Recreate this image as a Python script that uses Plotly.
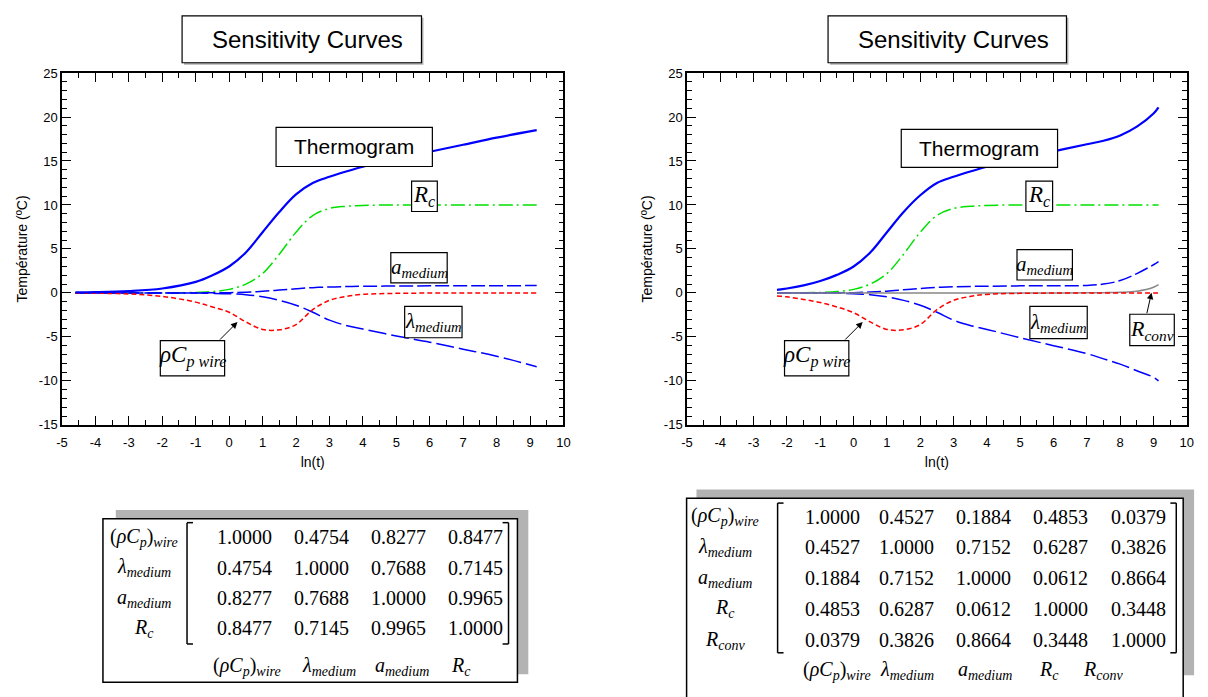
import plotly.graph_objects as go

W, H = 1208, 697

# ---------------- data ----------------
x_left = [-4.6, -4, -3, -2, -1, -0.5, 0, 0.5, 1, 1.5, 2, 2.5, 3, 3.5, 4, 5, 6, 7, 8, 9.2]
thermo_left = [0.05, 0.08, 0.2, 0.5, 1.25, 2.0, 3.0, 4.6, 6.9, 9.2, 11.2, 12.5, 13.2, 13.8, 14.35, 15.25, 16.05, 16.85, 17.65, 18.5]
rc_left = [0, 0, 0, 0.01, 0.05, 0.15, 0.4, 1.0, 2.2, 4.4, 6.9, 8.8, 9.6, 9.85, 9.95, 10, 10, 10, 10, 10]
a_left = [0, 0, 0, 0, 0, 0.01, 0.03, 0.08, 0.18, 0.32, 0.47, 0.6, 0.68, 0.72, 0.75, 0.78, 0.8, 0.81, 0.82, 0.83]
lam_left = [0, 0, 0, 0, -0.02, -0.05, -0.1, -0.2, -0.45, -0.85, -1.4, -2.2, -3.1, -3.7, -4.1, -4.9, -5.6, -6.4, -7.2, -8.4]
rho_left = [-0.02, -0.04, -0.12, -0.4, -1.05, -1.6, -2.2, -3.3, -4.15, -4.2, -3.6, -1.9, -0.85, -0.4, -0.17, -0.05, -0.02, 0, 0, 0]

x_right = [-2.3, -2, -1.5, -1, -0.5, 0, 0.5, 1, 1.5, 2, 2.5, 3, 3.5, 4, 5, 6, 7, 7.5, 8, 8.5, 9, 9.15]
thermo_right = [0.35, 0.5, 0.85, 1.35, 2.05, 3.0, 4.6, 6.9, 9.2, 11.1, 12.5, 13.2, 13.8, 14.35, 15.25, 16.1, 16.9, 17.3, 17.9, 18.9, 20.4, 21.1]
rc_right = [0, 0.005, 0.02, 0.05, 0.15, 0.4, 1.0, 2.2, 4.4, 6.9, 8.8, 9.6, 9.85, 9.95, 10, 10, 10, 10, 10, 10, 10, 10]
a_right = [0, 0, 0, 0, 0.01, 0.03, 0.1, 0.2, 0.35, 0.5, 0.62, 0.7, 0.74, 0.76, 0.8, 0.82, 0.85, 1.0, 1.4, 2.2, 3.2, 3.55]
lam_right = [0, 0, 0, 0, -0.02, -0.1, -0.2, -0.45, -0.85, -1.4, -2.2, -3.1, -3.7, -4.15, -5.1, -6.0, -6.9, -7.5, -8.1, -8.85, -9.6, -10.0]
rho_right = [-0.35, -0.45, -0.75, -1.1, -1.6, -2.25, -3.3, -4.15, -4.2, -3.6, -1.9, -0.85, -0.4, -0.17, -0.05, -0.02, 0, 0, 0, 0, 0, 0]
rconv_right = [0, 0, 0, 0, 0, 0, 0, 0, 0, 0, 0, 0, 0, 0, 0, 0, 0.01, 0.03, 0.07, 0.2, 0.65, 0.95]

x_ticks = list(range(-5, 11))
x_ticklabels = [str(v) for v in x_ticks]
y_ticks = list(range(-15, 26, 5))
y_ticklabels = [str(v) for v in y_ticks]

params_left = ["(<i>ρC</i><sub><i>p</i></sub>)<sub><i>wire</i></sub>", "<i>λ</i><sub><i>medium</i></sub>",
               "<i>a</i><sub><i>medium</i></sub>", "<i>R</i><sub><i>c</i></sub>"]
corr_left = [[1.0000, 0.4754, 0.8277, 0.8477],
             [0.4754, 1.0000, 0.7688, 0.7145],
             [0.8277, 0.7688, 1.0000, 0.9965],
             [0.8477, 0.7145, 0.9965, 1.0000]]
params_right = params_left + ["<i>R</i><sub><i>conv</i></sub>"]
corr_right = [[1.0000, 0.4527, 0.1884, 0.4853, 0.0379],
              [0.4527, 1.0000, 0.7152, 0.6287, 0.3826],
              [0.1884, 0.7152, 1.0000, 0.0612, 0.8664],
              [0.4853, 0.6287, 0.0612, 1.0000, 0.3448],
              [0.0379, 0.3826, 0.8664, 0.3448, 1.0000]]

# ---------------- helpers ----------------
def px(x):
    return x / W

def py(y):
    return 1 - y / H

BLUE = "#0000ff"
GREEN = "#00e000"
RED = "#ff0000"
GRAY = "#888888"
SANS = "Liberation Sans, Arial, sans-serif"
SERIF = "Liberation Serif, Times New Roman, serif"

fig = go.Figure()

def add_curves(xs, thermo, rc, a, lam, rho, xa, ya, rconv=None):
    common = dict(mode="lines", xaxis=xa, yaxis=ya, hoverinfo="skip", line_shape="spline")
    fig.add_trace(go.Scatter(x=xs, y=rc, line=dict(color=GREEN, width=1.5, dash="14px,4px,2px,4px"), **common))
    fig.add_trace(go.Scatter(x=xs, y=a, line=dict(color=BLUE, width=1.5, dash="14px,4px"), **common))
    fig.add_trace(go.Scatter(x=xs, y=lam, line=dict(color=BLUE, width=1.5, dash="18px,5px"), **common))
    if rconv is not None:
        fig.add_trace(go.Scatter(x=xs, y=rconv, line=dict(color=GRAY, width=1.5), **common))
    fig.add_trace(go.Scatter(x=xs, y=rho, line=dict(color=RED, width=1.5, dash="5px,3px"), **common))
    fig.add_trace(go.Scatter(x=xs, y=thermo, line=dict(color=BLUE, width=2.2), **common))

add_curves(x_left, thermo_left, rc_left, a_left, lam_left, rho_left, "x", "y")
add_curves(x_right, thermo_right, rc_right, a_right, lam_right, rho_right, "x2", "y2", rconv_right)

axis_common = dict(
    showline=True, linecolor="black", linewidth=1.5, mirror="ticks",
    ticks="inside", ticklen=9, tickwidth=1, tickcolor="black",
    showgrid=False, zeroline=False,
    tickfont=dict(family=SANS, size=13, color="black"),
)
xaxis_common = dict(axis_common, range=[-5, 10], tickvals=x_ticks, ticktext=x_ticklabels,
                    ticklabelstandoff=5,
                    minor=dict(dtick=0.5, tick0=-5, ticks="inside", ticklen=5, tickcolor="black", tickwidth=1),
                    title=dict(text="ln(t)", font=dict(family=SANS, size=14, color="black"), standoff=8))
yaxis_common = dict(axis_common, range=[-15, 25], tickvals=y_ticks, ticktext=y_ticklabels,
                    minor=dict(dtick=1, tick0=-15, ticks="inside", ticklen=5, tickcolor="black", tickwidth=1),
                    title=dict(text="Température (ºC)", font=dict(family=SANS, size=14, color="black"), standoff=8))

ydom = [py(427), py(67.5)]
fig.update_layout(
    xaxis=dict(xaxis_common, domain=[px(56.6), px(563.5)], anchor="y"),
    yaxis=dict(yaxis_common, domain=ydom, anchor="x"),
    xaxis2=dict(xaxis_common, domain=[px(688.4), px(1193.7)], anchor="y2"),
    yaxis2=dict(yaxis_common, domain=ydom, anchor="x2"),
)

shapes = []
annotations = []

def rect(x0, y0, x1, y1, fill="white", line="black", lw=1.2):
    shapes.append(dict(type="rect", xref="paper", yref="paper",
                       x0=px(x0), x1=px(x1), y0=py(y1), y1=py(y0),
                       fillcolor=fill, line=dict(color=line, width=lw), layer="above"))

def line(x0, y0, x1, y1, lw=1.5, color="black"):
    shapes.append(dict(type="line", xref="paper", yref="paper",
                       x0=px(x0), x1=px(x1), y0=py(y0), y1=py(y1),
                       line=dict(color=color, width=lw), layer="above"))

def text(x, y, s, size, family=SERIF, xanchor="center"):
    annotations.append(dict(xref="paper", yref="paper", x=px(x), y=py(y), text=s,
                            showarrow=False, xanchor=xanchor, yanchor="middle",
                            font=dict(family=family, size=size, color="black")))

def box_label(x0, y0, x1, y1, s, size, family=SERIF, shadow=False, dx=0, dy=0):
    if shadow:
        rect(x0 + 2, y0 + 2, x1 + 2, y1 + 2, fill="#b0b0b0", line="#b0b0b0", lw=0)
    rect(x0, y0, x1, y1)
    text((x0 + x1) / 2 + dx, (y0 + y1) / 2 + dy, s, size, family)

def arrow(tx, ty, sx, sy):
    annotations.append(dict(xref="paper", yref="paper", x=px(tx), y=py(ty), text="",
                            showarrow=True, ax=sx - tx, ay=sy - ty, axref="pixel", ayref="pixel",
                            arrowhead=2, arrowsize=1.3, arrowwidth=1, arrowcolor="black"))

RHO = "<i>ρC</i><sub><i>p wire</i></sub>"
RC = "<i>R</i><sub><i>c</i></sub>"
AMED = "<i>a</i><sub><i>medium</i></sub>"
LMED = "<i>λ</i><sub><i>medium</i></sub>"
RCONV = "<i>R</i><sub><i>conv</i></sub>"

# left plot labels
box_label(178, 9, 420, 57, "Sensitivity Curves", 24, SANS, shadow=True, dx=6)
box_label(273, 123, 431, 163, "Thermogram", 21, SANS)
box_label(410, 178, 436, 209, RC, 23)
box_label(389, 251, 446, 282, AMED, 21)
box_label(403, 306, 461, 338, LMED, 21)
box_label(156, 341, 221, 377, RHO, 23, dy=-2)
arrow(234, 322, 215, 341)

# right plot labels
box_label(831, 9, 1072, 57, "Sensitivity Curves", 24, SANS, shadow=True, dx=6)
box_label(905, 125, 1063, 164, "Thermogram", 21, SANS)
box_label(1031, 178, 1058, 209, RC, 23)
box_label(1022, 248, 1078, 279, AMED, 21)
box_label(1035, 306, 1093, 339, LMED, 21)
box_label(1136, 314, 1181, 346, RCONV, 22)
box_label(787, 341, 852, 377, RHO, 23, dy=-2)
arrow(866, 322, 847, 341)
arrow(1158, 292, 1153, 314)

# ---------------- correlation tables ----------------
def table(params, corr, box, shadow, label_x, col_x, row_y, bottom_y, bottom_x, br_l, br_r, br_y):
    rect(*shadow, fill="#b3b3b3", line="#b3b3b3", lw=0)
    rect(*box, fill="white", line="black", lw=1.5)
    for i, p in enumerate(params):
        text(label_x, row_y[i], p, 20)
        for j, v in enumerate(corr[i]):
            text(col_x[j], row_y[i], f"{v:.4f}", 20)
        text(bottom_x[i], bottom_y, p, 20)
    # brackets
    line(br_l, br_y[0], br_l, br_y[1])
    line(br_l, br_y[0], br_l + 6, br_y[0])
    line(br_l, br_y[1], br_l + 6, br_y[1])
    line(br_r, br_y[0], br_r, br_y[1])
    line(br_r, br_y[0], br_r - 6, br_y[0])
    line(br_r, br_y[1], br_r - 6, br_y[1])

table(params_left, corr_left,
      box=(98, 523, 517, 690), shadow=(111, 514, 528, 682),
      label_x=139, col_x=[241, 319, 397, 475], row_y=[542, 573, 604, 635],
      bottom_y=674, bottom_x=[244, 327, 400, 460],
      br_l=183, br_r=508, br_y=(527, 651))

table(params_right, corr_right,
      box=(688, 502, 1190, 712), shadow=(698, 493, 1201, 683),
      label_x=727, col_x=[835, 910, 988, 1066, 1145], row_y=[521, 552, 584, 615, 647],
      bottom_y=678, bottom_x=[840, 911, 990, 1054, 1109],
      br_l=780, br_r=1183, br_y=(507, 660))

fig.update_layout(
    width=W, height=H, margin=dict(l=0, r=0, t=0, b=0),
    paper_bgcolor="white", plot_bgcolor="white", showlegend=False,
    shapes=shapes, annotations=annotations,
)

fig.write_html("out.html")
